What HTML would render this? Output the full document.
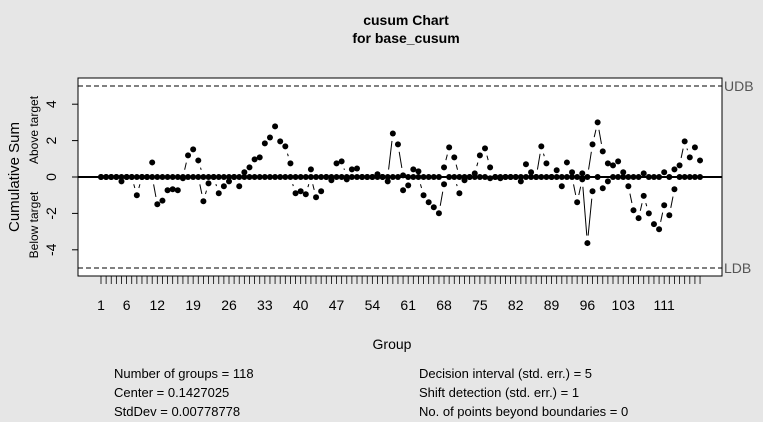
<!DOCTYPE html>
<html><head><meta charset="utf-8"><style>
body{margin:0;background:#e6e6e6;}
svg{display:block;font-family:"Liberation Sans",Arial,sans-serif;}
</style></head><body>
<svg id="chart" width="763" height="422" viewBox="0 0 763 422" xmlns="http://www.w3.org/2000/svg">
<rect x="0" y="0" width="763" height="422" fill="#e6e6e6"/>
<text x="406" y="25" font-size="14" font-weight="bold" text-anchor="middle">cusum Chart</text>
<text x="406" y="43" font-size="14" font-weight="bold" text-anchor="middle">for base_cusum</text>
<rect x="78" y="78" width="644" height="198" fill="#fff" stroke="#000"/>
<g id="grid"></g>
<g id="marks"></g>
<text transform="translate(19,177) rotate(-90)" font-size="15" text-anchor="middle">Cumulative Sum</text>
<text transform="translate(38,130) rotate(-90)" font-size="12" text-anchor="middle">Above target</text>
<text transform="translate(38,225) rotate(-90)" font-size="12" text-anchor="middle">Below target</text>
<text x="392" y="349" font-size="14" text-anchor="middle">Group</text>
<g font-size="13">
<text x="114" y="378">Number of groups = 118</text>
<text x="114" y="397">Center = 0.1427025</text>
<text x="114" y="416">StdDev = 0.00778778</text>
<text x="419" y="378">Decision interval (std. err.) = 5</text>
<text x="419" y="397">Shift detection (std. err.) = 1</text>
<text x="419" y="416">No. of points beyond boundaries = 0</text>
</g>
</svg>
<script>
const nGroups = 118;
const yTicks = [-4,-2,0,2,4];
const xLabels = [1,6,12,19,26,33,40,47,54,61,68,75,82,89,96,103,111];
const decisionInterval = 5;
// nonzero upper cusum values: [group, value]
const upperNonzero = [[11,0.8],[18,1.19],[19,1.52],[20,0.91],[29,0.26],[30,0.53],[31,0.97],[32,1.08],[33,1.85],[34,2.17],[35,2.78],[36,1.96],[37,1.68],[38,0.75],[42,0.42],[47,0.75],[48,0.86],[50,0.42],[51,0.47],[55,0.15],[58,2.39],[59,1.79],[60,0.09],[62,0.42],[63,0.31],[68,0.53],[69,1.63],[70,1.08],[74,0.2],[75,1.19],[76,1.57],[77,0.53],[84,0.7],[85,0.26],[87,1.68],[88,0.75],[90,0.37],[92,0.8],[93,0.26],[95,0.2],[97,1.79],[98,3.0],[99,1.41],[100,0.75],[101,0.64],[102,0.86],[103,0.26],[107,0.2],[111,0.26],[113,0.42],[114,0.64],[115,1.96],[116,1.08],[117,1.63],[118,0.91]];
// nonzero lower cusum values: [group, value]
const lowerNonzero = [[5,-0.24],[8,-1.0],[12,-1.5],[13,-1.3],[14,-0.73],[15,-0.67],[16,-0.73],[17,-0.07],[21,-1.33],[22,-0.35],[24,-0.89],[25,-0.51],[26,-0.24],[28,-0.51],[39,-0.89],[40,-0.78],[41,-0.95],[43,-1.11],[44,-0.78],[46,-0.18],[49,-0.13],[57,-0.24],[60,-0.73],[61,-0.46],[64,-1.0],[65,-1.39],[66,-1.66],[67,-1.99],[68,-0.4],[71,-0.89],[72,-0.18],[77,-0.07],[79,-0.07],[83,-0.24],[91,-0.51],[94,-1.39],[95,-0.13],[96,-3.63],[97,-0.78],[99,-0.62],[100,-0.24],[104,-0.51],[105,-1.83],[106,-2.26],[107,-1.04],[108,-2.0],[109,-2.59],[110,-2.87],[111,-1.55],[112,-2.1],[113,-0.67]];

const NS="http://www.w3.org/2000/svg";
const xS = g => 101 + (g-1)*5.12;
const yS = v => 177 - v*18.2;
const grid=document.getElementById('grid'), marks=document.getElementById('marks');
function mk(tag, attrs, parent){const e=document.createElementNS(NS,tag);for(const k in attrs)e.setAttribute(k,attrs[k]);parent.appendChild(e);return e;}
function series(arr){const s=new Array(nGroups).fill(0);arr.forEach(([g,v])=>{s[g-1]=v;});return s;}
const upper=series(upperNonzero), lower=series(lowerNonzero);

yTicks.forEach(t=>{
  const l=mk('line',{x1:72,x2:78,y1:yS(t),y2:yS(t),stroke:'#000'},grid);
  
  
  const tx=mk('text',{transform:`translate(56,${yS(t)}) rotate(-90)`,'font-size':14,'text-anchor':'middle'},grid);
  tx.textContent=t;
  
  
});
for(let g=1;g<=nGroups;g++){
  const l=mk('line',{x1:xS(g),x2:xS(g),y1:276,y2:284,stroke:'#000','stroke-width':0.8},grid);
  
  
}
xLabels.forEach(g=>{
  const tx=mk('text',{x:xS(g),y:310,'font-size':14,'text-anchor':'middle'},grid);
  tx.textContent=g;
  
  
});
[[decisionInterval,'UDB','upper-decision-boundary'],[-decisionInterval,'LDB','lower-decision-boundary']].forEach(([v,lab,nm])=>{
  const l=mk('line',{x1:78,x2:722,y1:yS(v),y2:yS(v),stroke:'#000','stroke-dasharray':'5,3'},grid);
  
  
  const tx=mk('text',{x:724,y:yS(v)+5,'font-size':14,fill:'#555'},grid);
  tx.textContent=lab;
  
  
});
const z=mk('line',{x1:78,x2:722,y1:yS(0),y2:yS(0),stroke:'#000','stroke-width':2},grid);



function drawSeries(s,name){
  for(let i=0;i<s.length-1;i++){
    const x1=xS(i+1),y1=yS(s[i]),x2=xS(i+2),y2=yS(s[i+1]);
    const dx=x2-x1,dy=y2-y1,len=Math.hypot(dx,dy);
    const gap=7.5;
    if(len<2*gap+1)continue;
    const ux=dx/len,uy=dy/len;
    const l=mk('line',{x1:x1+ux*gap,y1:y1+uy*gap,x2:x2-ux*gap,y2:y2-uy*gap,stroke:'#000','stroke-width':1},marks);
    
    
  }
  s.forEach((v,i)=>{
    const c=mk('circle',{cx:xS(i+1),cy:yS(v),r:3,fill:'#000'},marks);
    
    
  });
}
drawSeries(upper,'upper-cusum');
drawSeries(lower,'lower-cusum');
</script>
</body></html>
